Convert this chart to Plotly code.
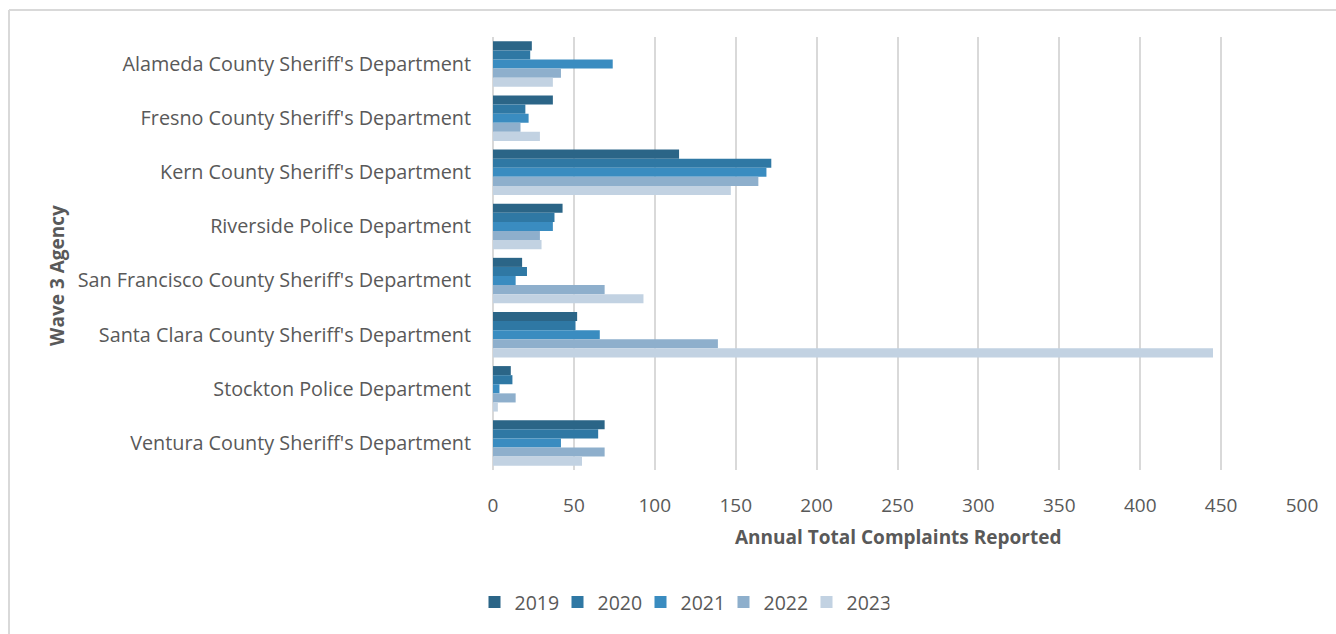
import plotly.graph_objects as go

agencies = [
    "Alameda County Sheriff's Department",
    "Fresno County Sheriff's Department",
    "Kern County Sheriff's Department",
    "Riverside Police Department",
    "San Francisco County Sheriff's Department",
    "Santa Clara County Sheriff's Department",
    "Stockton Police Department",
    "Ventura County Sheriff's Department",
]
years = ["2019", "2020", "2021", "2022", "2023"]
v2019 = [24, 37, 115, 43, 18, 52, 11, 69]
v2020 = [23, 20, 172, 38, 21, 51, 12, 65]
v2021 = [74, 22, 169, 37, 14, 66, 4, 42]
v2022 = [42, 17, 164, 29, 69, 139, 14, 69]
v2023 = [37, 29, 147, 30, 93, 445, 3, 55]
values = [v2019, v2020, v2021, v2022, v2023]
colors = ["#2b6587", "#2f78a4", "#3a8cc0", "#8eafcc", "#c2d2e2"]

x_ticks = [0, 50, 100, 150, 200, 250, 300, 350, 400, 450, 500]

fig = go.Figure()
for yr, vals, col in zip(years, values, colors):
    fig.add_trace(go.Bar(y=agencies, x=vals, name=yr, orientation="h",
                         marker=dict(color=col, line=dict(width=0))))

L, R, T, B = 493, 34, 37, 162
W, H = 1336, 634
pw, ph = W - L - R, H - T - B

def px_x(p):
    return (p - L) / pw

def px_y(p):
    return (H - B - p) / ph

grey = "#595959"
fig.update_layout(
    width=W, height=H, autosize=False,
    barmode="group", bargap=0.16, bargroupgap=0,
    margin=dict(l=L, r=R, t=T, b=B),
    paper_bgcolor="white", plot_bgcolor="white",
    font=dict(family="Open Sans", color=grey, size=19),
    xaxis=dict(range=[0, 500], tickvals=x_ticks, showgrid=True, gridcolor="#d9d9d9", gridwidth=2,
               zeroline=True, zerolinecolor="#d9d9d9", zerolinewidth=2, showline=False,
               ticks="", ticklabelstandoff=22,
               tickfont=dict(family="Open Sans", size=19, color=grey)),
    yaxis=dict(autorange="reversed", showgrid=False, zeroline=False, showline=False, ticks="",
               ticklabelstandoff=21, tickfont=dict(family="Open Sans", size=19.8, color=grey)),
    legend=dict(orientation="h", x=px_x(682), xanchor="center", y=px_y(605), yanchor="middle",
                font=dict(family="Open Sans", size=19.5, color=grey), traceorder="normal",
                entrywidth=38, entrywidthmode="pixels"),
    annotations=[
        dict(text="<b>Wave 3 Agency</b>", xref="paper", yref="paper", x=px_x(57), y=px_y(277),
             textangle=-90, showarrow=False, font=dict(family="Open Sans", size=19, color=grey),
             xanchor="center", yanchor="middle"),
        dict(text="<b>Annual Total Complaints Reported</b>", xref="paper", yref="paper", x=px_x(898),
             y=px_y(539), showarrow=False, font=dict(family="Open Sans", size=19, color=grey),
             xanchor="center", yanchor="middle"),
    ],
    shapes=[
        dict(type="line", xref="paper", yref="paper", x0=px_x(9), x1=px_x(1340), y0=px_y(10), y1=px_y(10),
             line=dict(color="#d9d9d9", width=2)),
        dict(type="line", xref="paper", yref="paper", x0=px_x(9), x1=px_x(9), y0=px_y(10), y1=px_y(640),
             line=dict(color="#d9d9d9", width=2)),
    ],
)

fig.write_html("out.html", config={"displayModeBar": False},
               post_script="document.body.style.margin='0';document.body.style.overflow='hidden';")
